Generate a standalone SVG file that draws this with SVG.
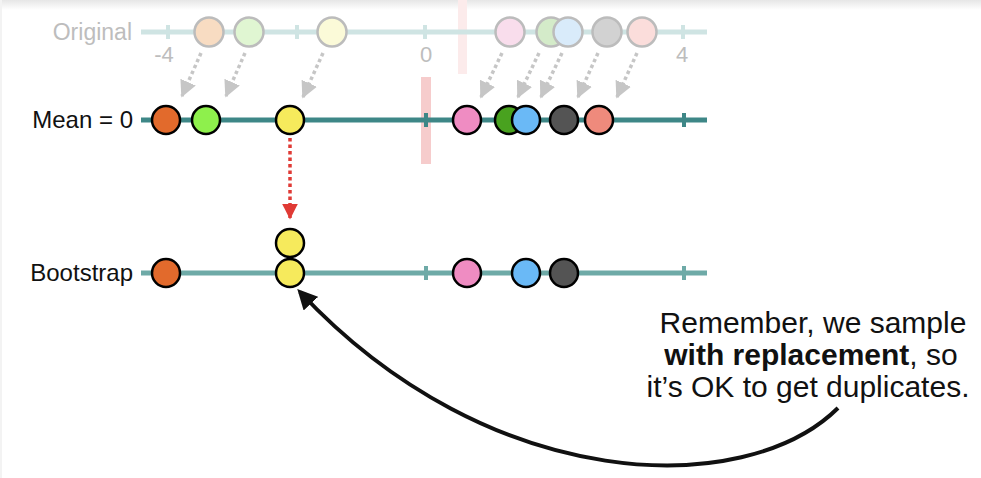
<svg xmlns="http://www.w3.org/2000/svg" width="981" height="478" viewBox="0 0 981 478">
<defs>
<linearGradient id="topShade" x1="0" y1="0" x2="0" y2="1">
<stop offset="0" stop-color="#e6e6e6"/>
<stop offset="1" stop-color="#ffffff"/>
</linearGradient>
<marker id="gArrow" viewBox="0 0 10 10" refX="9" refY="5" markerWidth="4.8" markerHeight="4.8" orient="auto" markerUnits="strokeWidth">
<path d="M0,0 L10,5 L0,10 Z" fill="#c6c6c6"/>
</marker>
<marker id="rArrow" viewBox="0 0 10 10" refX="9" refY="5" markerWidth="4.5" markerHeight="4.5" orient="auto" markerUnits="strokeWidth">
<path d="M0,0 L10,5 L0,10 Z" fill="#e03a35"/>
</marker>
<marker id="bArrow" viewBox="0 0 10 10" refX="8" refY="5" markerWidth="5" markerHeight="5" orient="auto" markerUnits="strokeWidth">
<path d="M0,0 L10,5 L0,10 Z" fill="#111111"/>
</marker>
</defs>
<style>
.lbl{font-family:"Liberation Sans",Arial,sans-serif;font-size:24px;fill:#111;text-anchor:end;}
.lblFade{font-family:"Liberation Sans",Arial,sans-serif;font-size:23px;fill:#bdbdbd;text-anchor:end;}
.num{font-family:"Liberation Sans",Arial,sans-serif;font-size:22px;fill:#bdbdbd;text-anchor:middle;}
.note{font-family:"Liberation Sans",Arial,sans-serif;font-size:30px;fill:#111;text-anchor:middle;}
.axisO{stroke:#cfe4e3;stroke-width:5;}
.axisM{stroke:#3e8787;stroke-width:5;}
.axisB{stroke:#6eaaa7;stroke-width:5;}
.dot{stroke:#000;stroke-width:2.5;}
.fade{stroke:#bcbcbc;stroke-width:2.5;}
.gdash{stroke:#c6c6c6;stroke-width:3.5;stroke-dasharray:3.5 3;fill:none;}
</style>
<rect x="0" y="0" width="981" height="478" fill="#ffffff"/>
<rect x="0" y="0" width="981" height="10" fill="url(#topShade)"/>
<rect x="0" y="0" width="2" height="478" fill="#f3f3f3"/>

<!-- zero markers -->
<rect x="458" y="0" width="9" height="74" fill="#fcebeb"/>
<rect x="421" y="77" width="10" height="87" fill="#f6cccc"/>

<!-- axes -->
<g id="axis-original">
<line class="axisO" x1="141" y1="32" x2="707" y2="32"/>
<line class="axisO" x1="168" y1="25" x2="168" y2="39" style="stroke-width:4"/>
<line class="axisO" x1="297" y1="25" x2="297" y2="39" style="stroke-width:4"/>
<line class="axisO" x1="425" y1="25" x2="425" y2="39" style="stroke-width:4"/>
<line class="axisO" x1="554" y1="25" x2="554" y2="39" style="stroke-width:4"/>
<line class="axisO" x1="683" y1="25" x2="683" y2="39" style="stroke-width:4"/>
<text class="lblFade" x="132" y="40">Original</text>
<text class="num" x="164" y="62">-4</text>
<text class="num" x="426" y="62">0</text>
<text class="num" x="682" y="62">4</text>
</g>
<g id="axis-mean">
<line class="axisM" x1="141" y1="120" x2="707" y2="120"/>
<line class="axisM" x1="168" y1="113" x2="168" y2="127" style="stroke-width:4"/>
<line class="axisM" x1="297" y1="113" x2="297" y2="127" style="stroke-width:4"/>
<line class="axisM" x1="426" y1="113" x2="426" y2="127" style="stroke-width:4"/>
<line class="axisM" x1="554" y1="113" x2="554" y2="127" style="stroke-width:4"/>
<line class="axisM" x1="684" y1="113" x2="684" y2="127" style="stroke-width:4"/>
<text class="lbl" x="133" y="128">Mean = 0</text>
</g>
<g id="axis-bootstrap">
<line class="axisB" x1="141" y1="273" x2="707" y2="273"/>
<line class="axisB" x1="168" y1="266" x2="168" y2="280" style="stroke-width:4"/>
<line class="axisB" x1="297" y1="266" x2="297" y2="280" style="stroke-width:4"/>
<line class="axisB" x1="426" y1="266" x2="426" y2="280" style="stroke-width:4"/>
<line class="axisB" x1="554" y1="266" x2="554" y2="280" style="stroke-width:4"/>
<line class="axisB" x1="684" y1="266" x2="684" y2="280" style="stroke-width:4"/>
<text class="lbl" x="133" y="281">Bootstrap</text>
</g>

<!-- original points -->
<g id="original-points">
<circle class="fade" cx="209" cy="32" r="14.5" fill="#f8dcc2"/>
<circle class="fade" cx="249" cy="32" r="14.5" fill="#e0f6d2"/>
<circle class="fade" cx="332" cy="32" r="14.5" fill="#fbfad8"/>
<circle class="fade" cx="510" cy="32" r="14.5" fill="#f9ddec"/>
<circle class="fade" cx="551" cy="32" r="14.5" fill="#d4ebc9"/>
<circle class="fade" cx="568" cy="32" r="14.5" fill="#d9ebfa"/>
<circle class="fade" cx="607" cy="32" r="14.5" fill="#d2d2d2"/>
<circle class="fade" cx="642" cy="32" r="14.5" fill="#fbdddb"/>
</g>

<!-- connectors -->
<g id="connectors">
<line class="gdash" x1="201" y1="53" x2="182" y2="96" marker-end="url(#gArrow)"/>
<line class="gdash" x1="245" y1="53" x2="226" y2="96" marker-end="url(#gArrow)"/>
<line class="gdash" x1="323" y1="53" x2="303" y2="97" marker-end="url(#gArrow)"/>
<line class="gdash" x1="502" y1="53" x2="481" y2="97" marker-end="url(#gArrow)"/>
<line class="gdash" x1="539" y1="53" x2="518" y2="97" marker-end="url(#gArrow)"/>
<line class="gdash" x1="562" y1="53" x2="541" y2="97" marker-end="url(#gArrow)"/>
<line class="gdash" x1="598" y1="53" x2="578" y2="97" marker-end="url(#gArrow)"/>
<line class="gdash" x1="637" y1="53" x2="617" y2="97" marker-end="url(#gArrow)"/>
<line x1="290" y1="138" x2="290" y2="218" stroke="#e03a35" stroke-width="3.5" stroke-dasharray="3.5 3" marker-end="url(#rArrow)"/>
<path d="M 838 408 C 745 500 490 495 300 292" fill="none" stroke="#111111" stroke-width="4" marker-end="url(#bArrow)"/>
</g>

<!-- mean points -->
<g id="mean-points">
<circle class="dot" cx="166" cy="120" r="14" fill="#e26a2c"/>
<circle class="dot" cx="206" cy="120" r="14" fill="#8ef04c"/>
<circle class="dot" cx="290" cy="120" r="14" fill="#f6ea5c"/>
<circle class="dot" cx="467" cy="120" r="14" fill="#ef8cc2"/>
<circle class="dot" cx="509" cy="120" r="14" fill="#49a21f"/>
<circle class="dot" cx="526" cy="120" r="14" fill="#6ab9f6"/>
<circle class="dot" cx="564" cy="120" r="14" fill="#545454"/>
<circle class="dot" cx="599" cy="120" r="14" fill="#ef8a7c"/>
</g>

<!-- bootstrap points -->
<g id="bootstrap-points">
<circle class="dot" cx="166" cy="273" r="14" fill="#e26a2c"/>
<circle class="dot" cx="290" cy="243" r="14" fill="#f6ea5c"/>
<circle class="dot" cx="290" cy="273" r="14" fill="#f6ea5c"/>
<circle class="dot" cx="467" cy="273" r="14" fill="#ef8cc2"/>
<circle class="dot" cx="526" cy="273" r="14" fill="#6ab9f6"/>
<circle class="dot" cx="564" cy="273" r="14" fill="#545454"/>
</g>

<g id="note">
<text class="note" x="813" y="333">Remember, we sample</text>
<text class="note" x="811" y="365"><tspan font-weight="bold">with replacement</tspan>, so</text>
<text class="note" x="808" y="397">it’s OK to get duplicates.</text>
</g>
</svg>
